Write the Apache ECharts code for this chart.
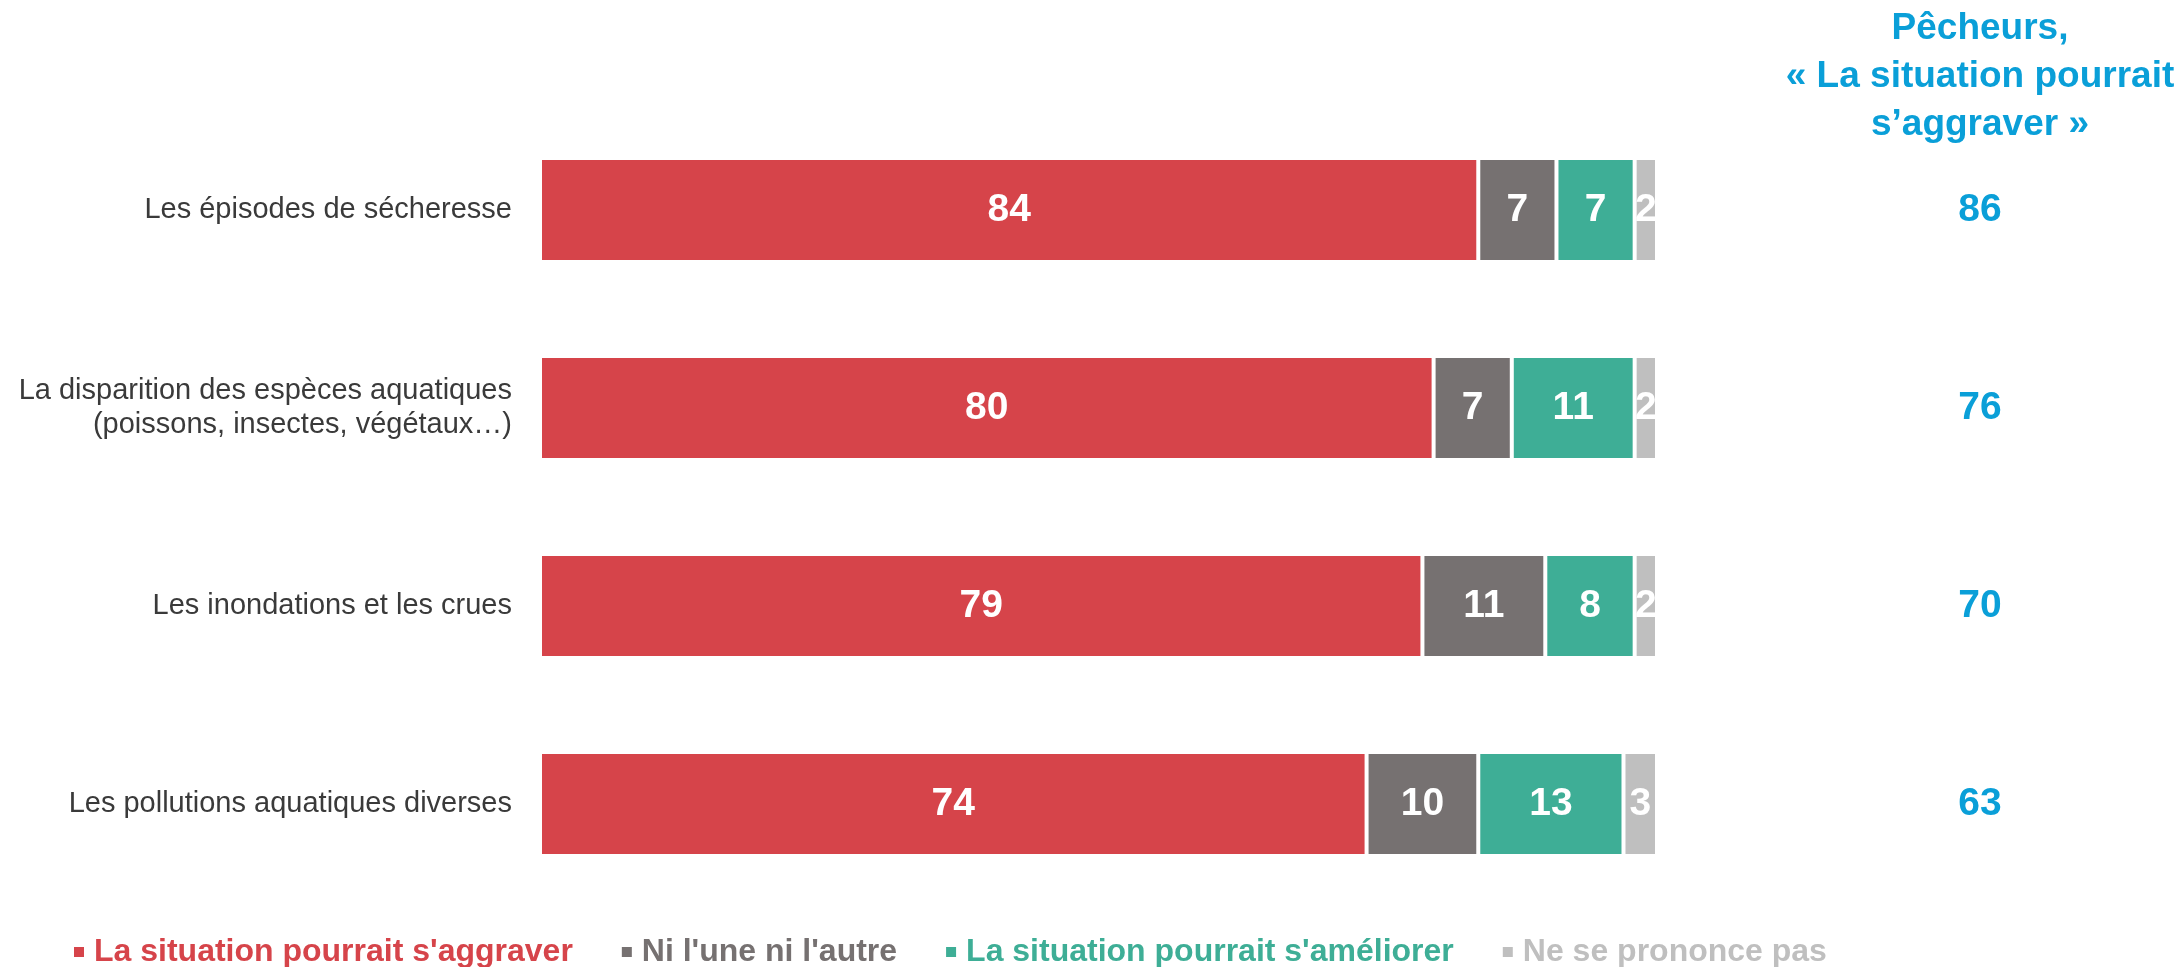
<!DOCTYPE html>
<html><head><meta charset="utf-8">
<script src="https://cdn.jsdelivr.net/npm/echarts@6/dist/echarts.min.js"></script>
<style>html,body{margin:0;padding:0;background:#fff}#c{width:2182px;height:967px}</style>
</head><body><div id="c"></div>
<script>
var categories = ["Les épisodes de sécheresse", "La disparition des espèces aquatiques\n(poissons, insectes, végétaux…)", "Les inondations et les crues", "Les pollutions aquatiques diverses"];
var seriesNames = ["La situation pourrait s'aggraver", "Ni l'une ni l'autre", "La situation pourrait s'améliorer", "Ne se prononce pas"];
var aggraver = [84, 80, 79, 74];
var niUneNiAutre = [7, 7, 11, 10];
var ameliorer = [7, 11, 8, 13];
var nsp = [2, 2, 2, 3];
var pecheurs = [86, 76, 70, 63];
var pecheursTitle = ["Pêcheurs,", "« La situation pourrait", "s’aggraver »"];

var colors = ["#D6444A", "#767171", "#3EAE96", "#BFBFBF"];
var blue = "#0A9FD8";
var font = "'Liberation Sans', Arial, sans-serif";
var values = [aggraver, niUneNiAutre, ameliorer, nsp];

var chart = echarts.init(document.getElementById('c'));
var series = values.map(function (v, i) {
  return {
    name: seriesNames[i], type: 'bar', stack: 'total', data: v, barWidth: 104,
    itemStyle: { color: colors[i], borderColor: '#fff', borderWidth: 2 },
    label: { show: true, position: 'inside', color: '#fff', fontFamily: font, fontWeight: 'bold', fontSize: 39 },
    emphasis: { disabled: true }
  };
});
chart.setOption({
  animation: false,
  color: colors,
  grid: { left: 540, right: 525, top: 111, bottom: 64 },
  xAxis: { type: 'value', min: 0, max: 100, show: false },
  yAxis: [{
    type: 'category', data: categories, inverse: true,
    axisLine: { show: false }, axisTick: { show: false },
    axisLabel: { margin: 28, color: '#3A3A3A', fontFamily: font, fontSize: 29, lineHeight: 34, align: 'right' }
  }, {
    type: 'category', data: pecheurs.map(String), inverse: true, position: 'right',
    axisLine: { show: false }, axisTick: { show: false },
    axisLabel: { margin: 323, align: 'center', color: blue, fontFamily: font, fontWeight: 'bold', fontSize: 39 }
  }],
  legend: {
    left: 67, top: 931, icon: 'rect', itemWidth: 12, itemHeight: 12, itemGap: 47,
    selectedMode: false,
    textStyle: { fontFamily: font, fontWeight: 'bold', fontSize: 32, padding: [0, 0, 0, 4] },
    data: seriesNames.map(function (n, i) { return { name: n, textStyle: { color: colors[i] } }; })
  },
  graphic: pecheursTitle.map(function (t, i) {
    return { type: 'text', x: 1980, y: 29 + i * 48, style: { text: t, fill: blue, font: 'bold 37px ' + font, align: 'center', verticalAlign: 'middle' } };
  }),
  series: series
});
</script></body></html>
